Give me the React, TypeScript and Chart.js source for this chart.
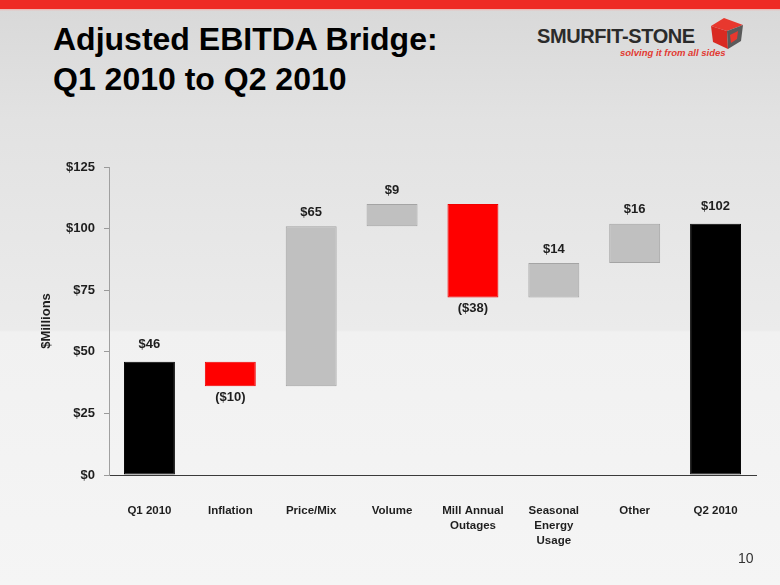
import React, { useEffect, useRef } from "react";
import { Chart, registerables } from "chart.js";

Chart.register(...registerables);

const categories: string[][] = [
  ["Q1 2010"],
  ["Inflation"],
  ["Price/Mix"],
  ["Volume"],
  ["Mill Annual", "Outages"],
  ["Seasonal", "Energy", "Usage"],
  ["Other"],
  ["Q2 2010"],
];
const barStart = [0, 36, 36, 101, 72, 72, 86, 0];
const barEnd = [46, 46, 101, 110, 110, 86, 102, 102];
const changeLabels = ["$46", "($10)", "$65", "$9", "($38)", "$14", "$16", "$102"];
const barKinds = ["total", "decrease", "increase", "increase", "decrease", "increase", "increase", "total"];
const yTicks = [0, 25, 50, 75, 100, 125];

const FONT = "'Liberation Sans', Arial, Helvetica, sans-serif";

const fillFor: Record<string, string> = { total: "#000000", decrease: "#ff0000", increase: "#c0c0c0" };
const borderFor: Record<string, string> = { total: "#000000", decrease: "#f00000", increase: "#a4a4a4" };

const labelPlugin = {
  id: "waterfallLabels",
  afterDatasetsDraw(chart: any) {
    const ctx = chart.ctx;
    const meta = chart.getDatasetMeta(0);
    ctx.save();
    ctx.font = `bold 13px ${FONT}`;
    ctx.fillStyle = "#1e1e1e";
    ctx.textAlign = "center";
    ctx.textBaseline = "middle";
    meta.data.forEach((el: any, i: number) => {
      const top = Math.min(el.y, el.base);
      const bottom = Math.max(el.y, el.base);
      const kind = barKinds[i];
      if (kind === "decrease") {
        ctx.fillText(changeLabels[i], el.x, bottom + 11);
      } else if (kind === "total") {
        ctx.fillText(changeLabels[i], el.x, top - 17);
      } else {
        ctx.fillText(changeLabels[i], el.x, top - 14);
      }
    });
    ctx.restore();
  },
};

function WaterfallChart() {
  const ref = useRef<HTMLCanvasElement | null>(null);
  useEffect(() => {
    if (!ref.current) return;
    const chart = new Chart(ref.current, {
      type: "bar",
      data: {
        labels: categories,
        datasets: [
          {
            data: barStart.map((s, i) => [s, barEnd[i]]) as any,
            backgroundColor: barKinds.map((k) => fillFor[k]),
            borderColor: barKinds.map((k) => borderFor[k]),
            borderWidth: 1,
            borderSkipped: false,
            barPercentage: 0.63,
            categoryPercentage: 1,
          },
        ],
      },
      options: {
        animation: false,
        responsive: false,
        devicePixelRatio: 1,
        layout: { padding: { left: 10, right: 24, top: 167, bottom: 0 } },
        plugins: { legend: { display: false }, tooltip: { enabled: false }, title: { display: false } },
        scales: {
          x: {
            grid: { display: false },
            border: { display: true, color: "#3a3a3a", width: 1 },
            ticks: {
              color: "#1e1e1e",
              font: { family: FONT, size: 11.5, weight: "bold", lineHeight: 1.3 },
              padding: 20,
              maxRotation: 0,
              autoSkip: false,
            },
            afterFit: (s: any) => {
              s.height = 110;
            },
          },
          y: {
            min: 0,
            max: 125,
            afterBuildTicks: (s: any) => {
              s.ticks = yTicks.map((v) => ({ value: v }));
            },
            grid: { drawOnChartArea: false, drawTicks: true, tickLength: 5, color: "#9a9a9a" },
            border: { display: true, color: "#a0a0a0", width: 1 },
            ticks: {
              color: "#1e1e1e",
              font: { family: FONT, size: 13, weight: "bold" },
              padding: 9,
              callback: (v: any) => "$" + v,
            },
            title: {
              display: true,
              text: "$Millions",
              color: "#1e1e1e",
              font: { family: FONT, size: 13, weight: "bold", lineHeight: 1.2 },
              padding: { top: 29, bottom: 0 },
            },
            afterFit: (s: any) => {
              s.width = 99;
            },
          },
        },
      },
      plugins: [labelPlugin],
    });
    return () => chart.destroy();
  }, []);
  return <canvas ref={ref} width={780} height={585} style={{ position: "absolute", left: 0, top: 0, width: 780, height: 585 }} />;
}

export default function App() {
  return (
    <div
      style={{
        position: "absolute",
        left: 0,
        top: 0,
        width: 780,
        height: 585,
        overflow: "hidden",
        background:
          "linear-gradient(to bottom, #ee2a24 0px, #ee2a24 9px, #f3b0ac 9px, #d9d9d9 11px, #e2e2e2 120px, #ebebeb 330px, #f1f1f1 332px, #f5f5f5 585px)",
        fontFamily: FONT,
      }}
    >
      <div
        style={{
          position: "absolute",
          left: 53,
          top: 19,
          fontSize: 32,
          lineHeight: "40px",
          fontWeight: "bold",
          color: "#000",
          whiteSpace: "nowrap",
        }}
      >
        Adjusted EBITDA Bridge:
        <br />
        Q1 2010 to Q2 2010
      </div>
      <div
        style={{
          position: "absolute",
          left: 537,
          top: 26,
          fontSize: 20,
          lineHeight: "20px",
          fontWeight: "bold",
          letterSpacing: "-0.4px",
          color: "#2b2b2b",
          whiteSpace: "nowrap",
        }}
      >
        SMURFIT-STONE
      </div>
      <div
        style={{
          position: "absolute",
          left: 620,
          top: 48,
          fontSize: 9.5,
          lineHeight: "10px",
          fontWeight: "bold",
          fontStyle: "italic",
          color: "#e23a32",
          whiteSpace: "nowrap",
        }}
      >
        solving it from all sides
      </div>
      <svg style={{ position: "absolute", left: 710, top: 17 }} width={36} height={34} viewBox="0 0 36 34">
        <polygon points="14,1 33,8 17,14 1,9" fill="#e8382e" />
        <polygon points="1,9 17,14 18,32 3,25" fill="#d92a22" />
        <polygon points="17,14 33,8 31,24 18,32" fill="#5a5a5a" />
        <polygon points="20,18 28,14 27,22 21,26" fill="#e8382e" />
      </svg>
      <WaterfallChart />
      <div
        style={{
          position: "absolute",
          left: 738,
          top: 551,
          fontSize: 14,
          lineHeight: "14px",
          color: "#333",
        }}
      >
        10
      </div>
    </div>
  );
}
